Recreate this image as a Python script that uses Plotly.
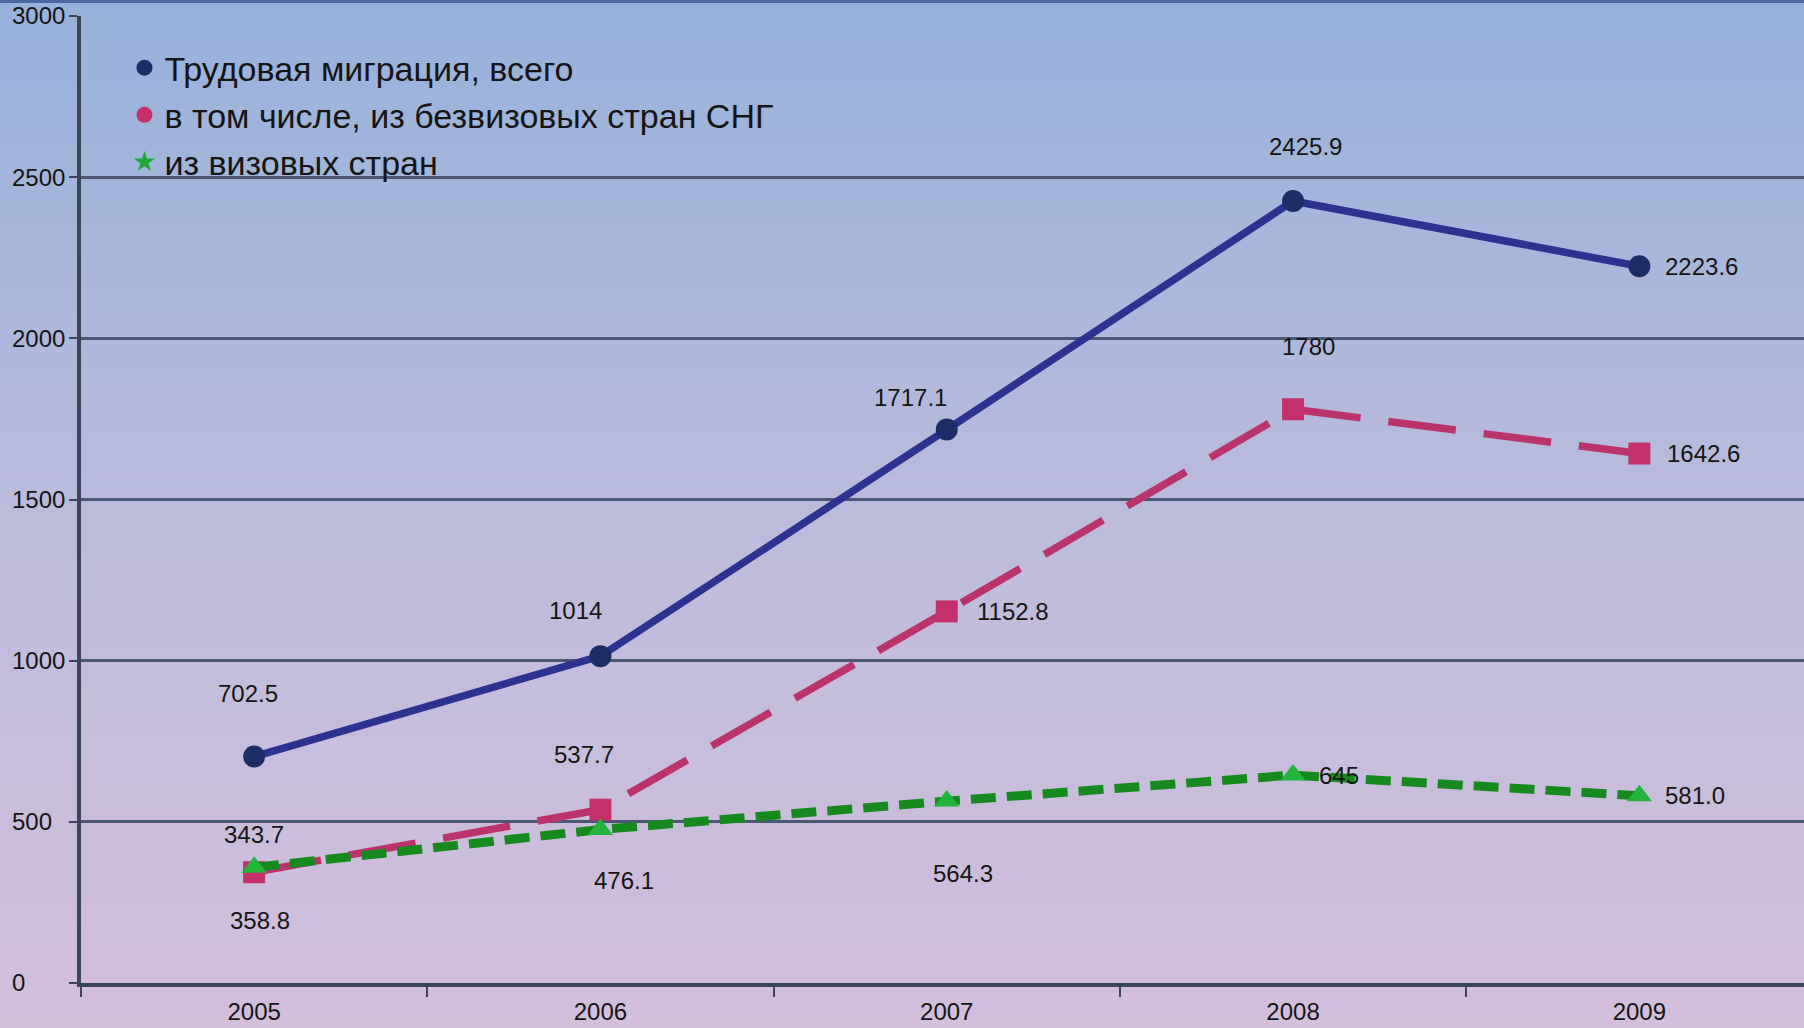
import plotly.graph_objects as go

# ---- data ----
years = ["2005", "2006", "2007", "2008", "2009"]
total = [702.5, 1014, 1717.1, 2425.9, 2223.6]
cis_visa_free = [343.7, 537.7, 1152.8, 1780, 1642.6]
visa_countries = [358.8, 476.1, 564.3, 645, 581.0]

total_labels = ["702.5", "1014", "1717.1", "2425.9", "2223.6"]
cis_labels = ["343.7", "537.7", "1152.8", "1780", "1642.6"]
visa_labels = ["358.8", "476.1", "564.3", "645", "581.0"]

names = ["Трудовая миграция, всего",
         "в том числе, из безвизовых стран СНГ",
         "из визовых стран"]
y_ticks = [0, 500, 1000, 1500, 2000, 2500, 3000]

# ---- styles ----
W, H = 1804, 1028
FONT = "Liberation Sans, Arial, sans-serif"
xs = list(range(len(years)))

fig = go.Figure()

# gradient background (heatmap on hidden full-page axes)
fig.add_trace(go.Heatmap(
    z=[[0, 0], [1, 1]], x=[0, 1], y=[0, 1], zsmooth="best",
    colorscale=[[0, "#d3bedc"], [0.45, "#bfbcdc"], [1, "#96b2db"]],
    showscale=False, hoverinfo="skip", xaxis="x", yaxis="y"))

series = [
    dict(y=total, color="#2d3190", mcolor="#1d2d66", symbol="circle",
         dash="solid", width=7.5, msize=22),
    dict(y=cis_visa_free, color="#bb336c", mcolor="#c4306c", symbol="square",
         dash="68px,28px", width=7.5, msize=22),
    dict(y=visa_countries, color="#178a1f", mcolor="#22b43c", symbol="triangle-up",
         dash="25px,11px", width=9, msize=22),
]
for s in series:
    fig.add_trace(go.Scatter(
        x=xs, y=s["y"], mode="lines+markers", xaxis="x2", yaxis="y2",
        line=dict(color=s["color"], width=s["width"], dash=s["dash"]),
        marker=dict(symbol=s["symbol"], size=s["msize"], color=s["mcolor"],
                    line=dict(width=0)),
        showlegend=False, hoverinfo="skip"))

# legend-only marker entries (on the label axis)
legend_symbols = ["circle", "circle", "star"]
legend_colors = ["#1d2d66", "#c4306c", "#22a83a"]
for n, sym, col in zip(names, legend_symbols, legend_colors):
    fig.add_trace(go.Scatter(
        x=[None], y=[None], mode="markers", name=n, xaxis="x2", yaxis="y3",
        marker=dict(symbol=sym, size=18, color=col)))

# data labels
offsets = {
    0: [(-6, 63, "center"), (-25, 46, "center"), (-36, 32, "center"),
        (12, 55, "center"), (24, 0, "left")],
    1: [(0, 38, "center"), (-16, 55, "center"), (28, 0, "left"),
        (15, 63, "center"), (26, 0, "left")],
    2: [(6, -53, "center"), (24, -51, "center"), (16, -72, "center"),
        (24, 0, "left"), (24, 0, "left")],
}
all_vals = [total, cis_visa_free, visa_countries]
all_labels = [total_labels, cis_labels, visa_labels]
for si in range(3):
    for i in xs:
        dx, dy, anchor = offsets[si][i]
        fig.add_annotation(
            x=i, y=all_vals[si][i], xref="x2", yref="y2", text=all_labels[si][i],
            showarrow=False, xshift=dx, yshift=dy, xanchor=anchor, yanchor="middle",
            font=dict(family=FONT, size=24, color="#151515"))

# top border
fig.add_shape(type="line", xref="paper", yref="paper", x0=0, x1=1, y0=1, y1=1,
              line=dict(color="#4d689e", width=6))

x_left = 81 / W
y_bottom = (H - 983) / H
y_top = (H - 16) / H
cat_px = 346.3
x_max = -0.5 + (W - 81) / cat_px

fig.update_layout(
    width=W, height=H,
    margin=dict(l=0, r=0, t=0, b=0, pad=0, autoexpand=False),
    paper_bgcolor="#c0bcdc",
    plot_bgcolor="rgba(0,0,0,0)",
    xaxis=dict(domain=[0, 1], range=[0, 1], visible=False, fixedrange=True,
               automargin=False),
    yaxis=dict(domain=[0, 1], range=[0, 1], visible=False, fixedrange=True,
               automargin=False),
    xaxis2=dict(
        domain=[x_left, 1], range=[-0.5, x_max], anchor="y2", automargin=False,
        tickmode="array", tickvals=xs, ticktext=years,
        ticks="", showgrid=False, zeroline=False,
        showline=True, linecolor="#3c4457", linewidth=4,
        tickfont=dict(family=FONT, size=24, color="#151515"),
        ticklabelstandoff=4,
        minor=dict(tickmode="array", tickvals=[-0.5, 0.5, 1.5, 2.5, 3.5],
                   ticks="outside", ticklen=10, tickwidth=2, tickcolor="#3c4457",
                   showgrid=False),
    ),
    yaxis2=dict(
        domain=[y_bottom, y_top], range=[0, 3000], anchor="x2", automargin=False,
        tickmode="array", tickvals=y_ticks, showticklabels=False,
        ticks="outside", ticklen=8, tickwidth=2, tickcolor="#3c4457",
        showgrid=True, gridcolor="#4b5774", gridwidth=3, zeroline=False,
        showline=True, linecolor="#3c4457", linewidth=4,
    ),
    # left-aligned tick labels: right-side axis placed at the page's left edge
    yaxis3=dict(
        overlaying="y2", side="right", anchor="free", position=11 / W,
        range=[0, 3000], tickmode="array", tickvals=y_ticks, automargin=False,
        ticks="", showgrid=False, zeroline=False, showline=False,
        tickfont=dict(family=FONT, size=24, color="#151515"),
    ),
    legend=dict(x=0.069, y=0.962, xanchor="left", yanchor="top",
                bgcolor="rgba(0,0,0,0)", borderwidth=0,
                font=dict(family=FONT, size=34, color="#151515"),
                itemsizing="trace", tracegroupgap=0),
)

fig.write_html("out.html", config={"displayModeBar": False},
               post_script="document.body.style.margin='0px';")
